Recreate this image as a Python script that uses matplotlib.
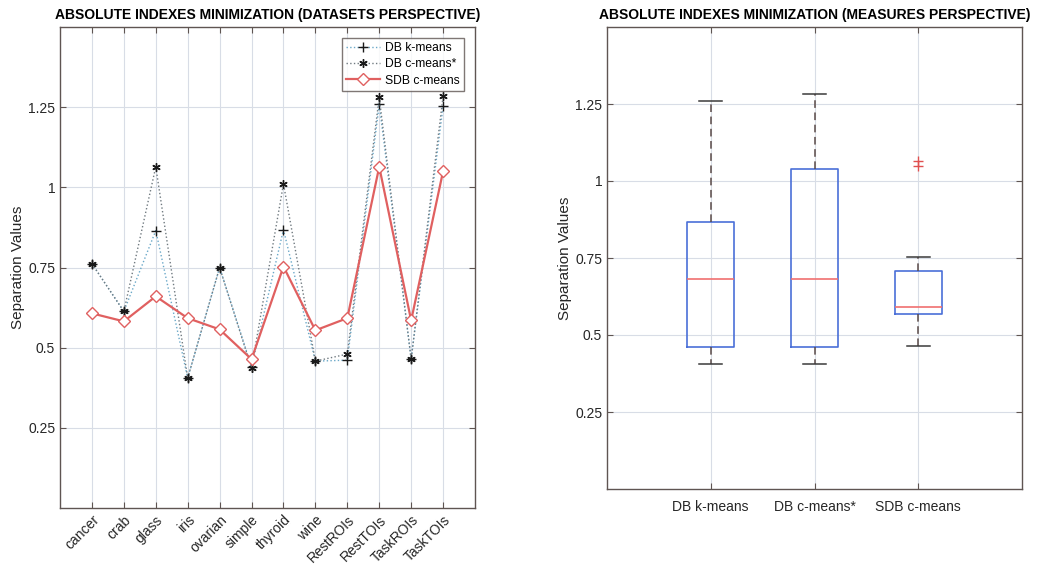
import numpy as np
import matplotlib
matplotlib.use("Agg")
import matplotlib.pyplot as plt

plt.rcParams['font.family'] = ['Liberation Sans', 'DejaVu Sans']

datasets = ["cancer", "crab", "glass", "iris", "ovarian", "simple", "thyroid",
            "wine", "RestROIs", "RestTOIs", "TaskROIs", "TaskTOIs"]
db_kmeans = [0.762, 0.613, 0.865, 0.405, 0.750, 0.440, 0.868,
             0.458, 0.461, 1.259, 0.464, 1.253]
db_cmeans = [0.762, 0.613, 1.064, 0.405, 0.750, 0.436, 1.011,
             0.458, 0.480, 1.281, 0.464, 1.284]
sdb_cmeans = [0.607, 0.582, 0.660, 0.592, 0.557, 0.464, 0.753,
              0.554, 0.592, 1.064, 0.585, 1.050]
measures = ["DB k-means", "DB c-means*", "SDB c-means"]
yticks = [0.25, 0.5, 0.75, 1.0, 1.25]
ytick_labels = ["0.25", "0.5", "0.75", "1", "1.25"]

spine_col = "#5f5552"
grid_col = "#d8dde6"
text_col = "#262626"

fig = plt.figure(figsize=(10.43, 5.65), dpi=100)
W, H = 1043, 565
axL = fig.add_axes([60 / W, 1 - 508 / H, 415 / W, 481 / H])
axR = fig.add_axes([607 / W, 1 - 489 / H, 415 / W, 462 / H])


def style(ax):
    for s in ax.spines.values():
        s.set_color(spine_col)
        s.set_linewidth(1.0)
    ax.tick_params(direction='in', length=4, color=spine_col, labelcolor=text_col,
                   labelsize=10, top=True, right=True)
    ax.grid(True, color=grid_col, linewidth=0.8)
    ax.set_axisbelow(True)
    ax.set_ylim(0, 1.5)
    ax.set_yticks(yticks)
    ax.set_yticklabels(ytick_labels)
    ax.set_ylabel("Separation Values", fontsize=11, color=text_col, labelpad=2)


# Left: line plot
x = np.arange(1, len(datasets) + 1)
axL.plot(x, db_kmeans, linestyle=':', color='#6aa8c8', linewidth=1.0,
         marker='+', markersize=7, markeredgecolor='#1a1a1a', markeredgewidth=1.0,
         label=measures[0])
axL.plot(x, db_cmeans, linestyle=':', color='#707a80', linewidth=1.0,
         marker=(6, 2, 0), markersize=6, markeredgecolor='#1a1a1a', markeredgewidth=1.0,
         label=measures[1])
axL.plot(x, sdb_cmeans, linestyle='-', color='#e06060', linewidth=1.6,
         marker='D', markersize=6.5, markerfacecolor='white', markeredgecolor='#e06060',
         markeredgewidth=1.0, label=measures[2])
style(axL)
axL.set_xlim(0, 13)
axL.set_xticks(x)
axL.set_xticklabels(datasets, rotation=45, ha='right', rotation_mode='anchor')
axL.set_title("ABSOLUTE INDEXES MINIMIZATION (DATASETS PERSPECTIVE)",
              fontsize=10, fontweight='bold', color='black', pad=6)
leg = axL.legend(loc='upper right', fontsize=8.7, frameon=True, fancybox=False,
                 edgecolor=spine_col, borderaxespad=0.9, handlelength=2.8,
                 labelspacing=0.35, borderpad=0.35, handletextpad=0.4)
leg.get_frame().set_linewidth(1.0)


# Right: boxplot with MATLAB-style quartiles
def matlab_stats(vals, label):
    v = np.sort(np.asarray(vals))
    q1, med, q3 = np.percentile(v, [25, 50, 75], method='hazen')
    iqr = q3 - q1
    lo_f, hi_f = q1 - 1.5 * iqr, q3 + 1.5 * iqr
    inside = v[(v >= lo_f) & (v <= hi_f)]
    return dict(med=med, q1=q1, q3=q3, whislo=inside.min(), whishi=inside.max(),
                fliers=v[(v < lo_f) | (v > hi_f)], label=label)


stats = [matlab_stats(d, m) for d, m in zip([db_kmeans, db_cmeans, sdb_cmeans], measures)]
axR.bxp(stats, positions=[1, 2, 3], widths=0.45, capwidths=0.22,
        boxprops=dict(color='#4a6fd8', linewidth=1.2),
        medianprops=dict(color='#f07070', linewidth=1.2),
        whiskerprops=dict(color='#5a4a48', linewidth=1.1, linestyle=(0, (5, 3))),
        capprops=dict(color='#3a3a3a', linewidth=1.1),
        flierprops=dict(marker='+', markeredgecolor='#e05050', markersize=7,
                        markeredgewidth=1.0))
style(axR)
axR.set_xlim(0, 4)
axR.set_xticks([1, 2, 3])
axR.set_xticklabels(measures)
axR.tick_params(axis='x', pad=8)
axR.set_title("ABSOLUTE INDEXES MINIMIZATION (MEASURES PERSPECTIVE)",
              fontsize=10, fontweight='bold', color='black', pad=6)

fig.savefig("out.png", dpi=100)
